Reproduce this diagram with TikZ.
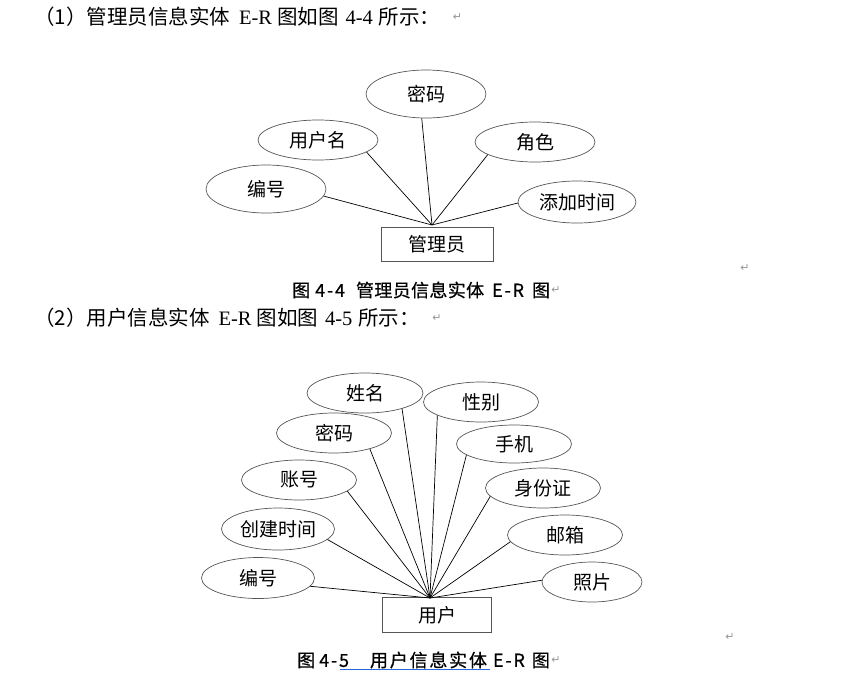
\documentclass[tikz,border=0pt]{standalone}
\usepackage{fontspec}
\setmainfont{Liberation Serif}
\newfontfamily\cjk{Noto Sans CJK SC}
\newfontfamily\capfont[LetterSpace=2,FakeBold=0.6]{Noto Sans CJK SC}
\newfontfamily\caplatin[LetterSpace=10,FakeBold=0.6]{Noto Sans CJK SC}
\newfontfamily\capnarrow[LetterSpace=10,FakeBold=0.6]{Noto Sans CJK SC}
\newfontfamily\symb{DejaVu Sans}
\usetikzlibrary{shapes.geometric,positioning}
\definecolor{ergrey}{RGB}{85,85,85}
\definecolor{markgrey}{RGB}{150,150,150}
\definecolor{spellblue}{RGB}{40,100,220}

\begin{document}
\begin{tikzpicture}[x=1pt, y=-1pt,
    attr/.style={ellipse, draw=ergrey, line width=0.7pt, inner sep=0pt,
        minimum width=115pt, minimum height=40pt,
        font=\cjk\fontsize{19}{19}\selectfont},
    entity/.style={rectangle, draw=ergrey, line width=1pt, inner sep=0pt,
        minimum width=112pt, minimum height=34pt,
        font=\cjk\fontsize{19}{19}\selectfont},
    link/.style={line width=0.7pt, black},
    head/.style={anchor=west, inner sep=0pt, font=\fontsize{20.5}{20.5}\selectfont},
    caption/.style={anchor=west, inner sep=0pt},
    ret/.style={text=markgrey, inner sep=0pt, font=\symb\fontsize{11}{11}\selectfont}
]
    \useasboundingbox (0,0) rectangle (860,673);

    % first entity: admin
    \node[head] (head1) at (34,17)
        {{\cjk （1）管理员信息实体}\hspace{9pt}E-R\hspace{5pt}{\cjk 图如图}\hspace{7pt}4-4\hspace{6pt}{\cjk 所示：}};
    \node[ret, right=12pt of head1] (ret1) {↵};

    \node[entity] (admin) at (437,244) {管理员};
    \coordinate (hub1) at (432,225);
    \begin{scope}[every node/.append style={font=\cjk\fontsize{20}{20}\selectfont}]
    \node[attr, minimum width=120pt, minimum height=48pt] (pwd1) at (426,94) {密码};
    \node[attr, minimum width=120pt] (uname) at (318,140) {用户名};
    \node[attr, minimum width=120pt] (role) at (535,142) {角色};
    \node[attr, minimum width=120pt, minimum height=48pt] (id1) at (266,189) {编号};
    \node[attr, minimum width=118pt, minimum height=42pt] (addtime) at (577,202) {添加时间};
    \end{scope}
    \foreach \a/\ang in {pwd1/-100, uname/-14, role/195, id1/-7, addtime/181}
        \draw[link] (hub1) -- (\a.\ang);

    \node[caption, font=\capfont\fontsize{18}{18}\selectfont] (cap1) at (292,290)
        {图\hspace{5pt}{\caplatin 4-4}\hspace{11pt}管理员信息实体\hspace{8pt}{\caplatin E-R}\hspace{8pt}图};
    \node[ret, right=1pt of cap1] (ret2) {↵};
    \node[ret] (ret3) at (745,268) {↵};

    % second entity: user
    \node[head] (head2) at (34,318)
        {{\cjk （2）用户信息实体}\hspace{9pt}E-R\hspace{5pt}{\cjk 图如图}\hspace{7pt}4-5\hspace{6pt}{\cjk 所示：}};
    \node[ret, right=12pt of head2] (ret4) {↵};

    \node[entity, minimum width=109pt, minimum height=35pt] (user) at (437,615) {用户};
    \coordinate (hub2) at (430,598);
    \node[attr, minimum width=116pt] (name) at (365,393) {姓名};
    \node[attr] (gender) at (481,402) {性别};
    \node[attr] (pwd2) at (334,433) {密码};
    \node[attr, minimum height=38pt] (phone) at (514,444) {手机};
    \node[attr] (account) at (299,480) {账号};
    \node[attr] (idcard) at (543,488) {身份证};
    \node[attr, minimum width=113pt, minimum height=42pt] (ctime) at (278,529) {创建时间};
    \node[attr] (email) at (565,535) {邮箱};
    \node[attr, minimum width=113pt, minimum height=41pt] (id2) at (258,578) {编号};
    \node[attr, minimum width=100pt] (photo) at (592,582) {照片};
    \foreach \a/\ang in {name/-23, gender/-163, pwd2/-24, phone/193, account/-13,
                         idcard/189, ctime/-12, email/187, id2/-9, photo/178}
        \draw[link] (hub2) -- (\a.\ang);

    \node[ret] (ret5) at (730,637) {↵};
    \node[caption, font=\capnarrow\fontsize{18}{18}\selectfont] (cap2) at (297,660)
        {图\hspace{4pt}{\caplatin 4-5}\hspace{21pt}用户信息实体\hspace{6pt}{\caplatin E-R}\hspace{7pt}图};
    \node[ret, right=1pt of cap2] (ret6) {↵};
    \draw[spellblue, line width=1pt] (340,669) -- (490,669);
\end{tikzpicture}
\end{document}
